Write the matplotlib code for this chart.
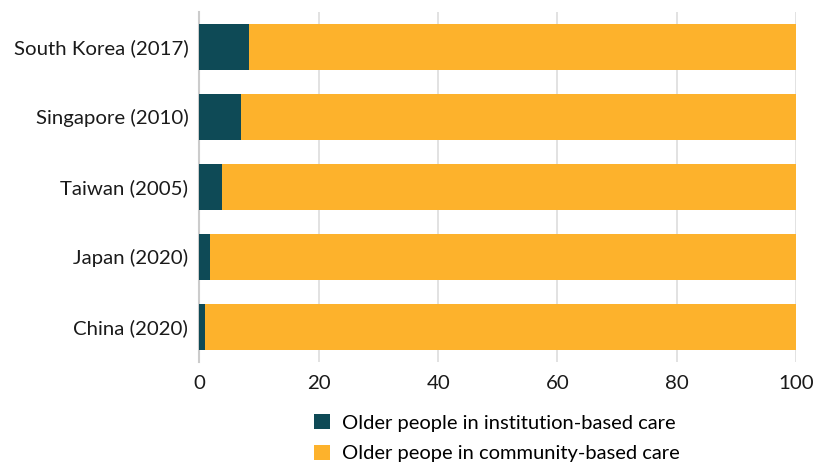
import matplotlib.pyplot as plt
import numpy as np

plt.rcParams['font.family'] = ['Lato', 'DejaVu Sans']

countries = ['South Korea (2017)', 'Singapore (2010)', 'Taiwan (2005)',
             'Japan (2020)', 'China (2020)']
institution = [8.3, 7.0, 3.8, 1.7, 0.9]
community = [100 - v for v in institution]

teal = '#0e4a56'
amber = '#fdb22c'

fig = plt.figure(figsize=(8.14, 4.66), dpi=100)
ax = fig.add_axes([0.245, 0.223, 0.733, 0.752])

y = np.arange(len(countries))
ax.barh(y, institution, height=0.66, color=teal,
        label='Older people in institution-based care', zorder=3)
ax.barh(y, community, left=institution, height=0.66, color=amber,
        label='Older peope in community-based care', zorder=3)

ax.set_ylim(len(countries) - 0.5, -0.5)
ax.set_xlim(0, 100)
ax.set_yticks(y)
ax.set_yticklabels(countries)
ax.set_xticks(np.arange(0, 101, 20))
ax.tick_params(length=0, labelsize=14.7, colors='#1a1a1a', pad=8)
ax.tick_params(axis='x', pad=9)

ax.grid(axis='x', color='#dddddd', linewidth=1.2, zorder=0)
for s in ['top', 'right', 'bottom']:
    ax.spines[s].set_visible(False)
ax.spines['left'].set_color('#cccccc')
ax.spines['left'].set_linewidth(1.5)

fig.legend(loc='lower left', bbox_to_anchor=(0.364, -0.031), frameon=False,
           fontsize=14.5, handlelength=0.75, handleheight=0.75,
           handletextpad=0.6, labelspacing=0.65)

fig.savefig('out.png', dpi=100)
